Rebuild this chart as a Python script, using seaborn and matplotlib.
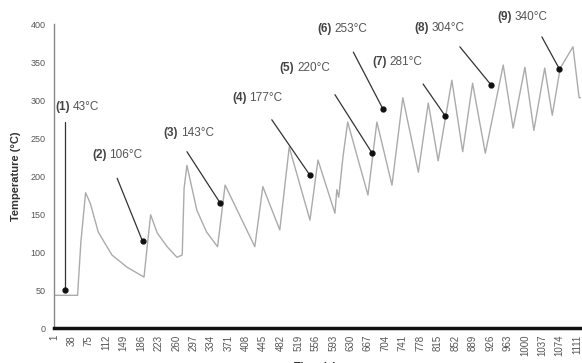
import numpy as np
import pandas as pd
import matplotlib
matplotlib.use("Agg")
import matplotlib.pyplot as plt
import seaborn as sns

# temperature trace, vertices
time_s = [1, 51, 58, 68, 78, 95, 124, 156, 192, 198, 206, 220, 241, 262, 273, 277, 283,
          304, 325, 348, 364, 427, 444, 480, 500, 544, 561, 597, 601, 605, 614, 624,
          667, 686, 718, 741, 774, 795, 816, 845, 868, 889, 916, 954, 975, 1000, 1019,
          1042, 1058, 1075, 1102, 1115, 1119]
temp_c = [43, 43, 113, 178, 164, 126, 96, 80, 67, 103, 149, 125, 107, 93, 96, 184, 214,
          155, 126, 107, 188, 107, 186, 129, 238, 142, 221, 151, 182, 172, 225, 271,
          175, 271, 188, 303, 205, 296, 220, 326, 232, 322, 230, 346, 263, 343, 260,
          342, 280, 342, 370, 303, 303]

# annotations
ann_labels = ["(1)", "(2)", "(3)", "(4)", "(5)", "(6)", "(7)", "(8)", "(9)"]
ann_values = ["43°C", "106°C", "143°C", "177°C", "220°C", "253°C", "281°C", "304°C", "340°C"]
ann_text_t = [3, 82, 233, 379, 480, 559, 676, 766, 941]
ann_text_v = [291, 228, 257, 303, 342, 393, 350, 395, 409]
ann_start_t = [24, 135, 283, 463, 597, 636, 784, 862, 1036]
ann_start_v = [271, 197, 232, 274, 307, 363, 321, 370, 383]
ann_tip_t = [24, 189, 354, 544, 676, 699, 831, 928, 1073]
ann_tip_v = [50, 114, 164, 201, 230, 288, 279, 320, 341]

xtick_vals = list(range(1, 1112, 37))
ytick_vals = [0, 50, 100, 150, 200, 250, 300, 350, 400]

sns.set_style("white")
plt.rcParams['font.family'] = ['Liberation Sans', 'DejaVu Sans']

df = pd.DataFrame({"time": time_s, "temp": temp_c})

fig = plt.figure(figsize=(5.82, 3.63), dpi=100)
ax = fig.add_axes([54 / 582, 1 - 328 / 363, 527 / 582, 304 / 363])

sns.lineplot(data=df, x="time", y="temp", ax=ax, color="#ababab", lw=1.0, estimator=None)

for i in range(len(ann_labels)):
    ax.plot([ann_start_t[i], ann_tip_t[i]], [ann_start_v[i], ann_tip_v[i]],
            color="#333333", lw=0.9)
    ax.plot(ann_tip_t[i], ann_tip_v[i], "o", color="#111111", ms=3.5)
    ax.annotate(ann_labels[i], xy=(ann_text_t[i], ann_text_v[i]), fontsize=8.5,
                fontweight="bold", color="#444444", va="center", ha="left",
                annotation_clip=False)
    ax.annotate(ann_values[i], xy=(ann_text_t[i], ann_text_v[i]), xytext=(12.5, 0),
                textcoords="offset points", fontsize=8.5, color="#555555",
                va="center", ha="left", annotation_clip=False)

ax.set_xlim(1, 1119)
ax.set_ylim(0, 400)
ax.set_xticks(xtick_vals)
ax.set_xticklabels([str(v) for v in xtick_vals], rotation=90, fontsize=7, color="#555555")
ax.set_yticks(ytick_vals)
ax.set_yticklabels([str(v) for v in ytick_vals], fontsize=6.5, color="#555555")
ax.tick_params(axis="y", length=4, width=0.8, color="#777777", pad=2)
ax.tick_params(axis="x", length=3, width=0.8, color="#999999", pad=2)

ax.set_xlabel("")
ax.set_ylabel("Temperature (°C)", fontsize=8, fontweight="bold", color="#333333", labelpad=7)

sns.despine(ax=ax)
ax.spines["left"].set_color("#888888")
ax.spines["left"].set_linewidth(1.0)
ax.spines["bottom"].set_color("#111111")
ax.spines["bottom"].set_linewidth(2.5)

# axis title sits mostly below the lower edge, as in the source image
fig.text(315 / 582, 1 - 361.5 / 363, "Time (s)", fontsize=8, fontweight="bold",
         color="#333333", ha="center", va="top")

fig.savefig("out.png", dpi=100)
